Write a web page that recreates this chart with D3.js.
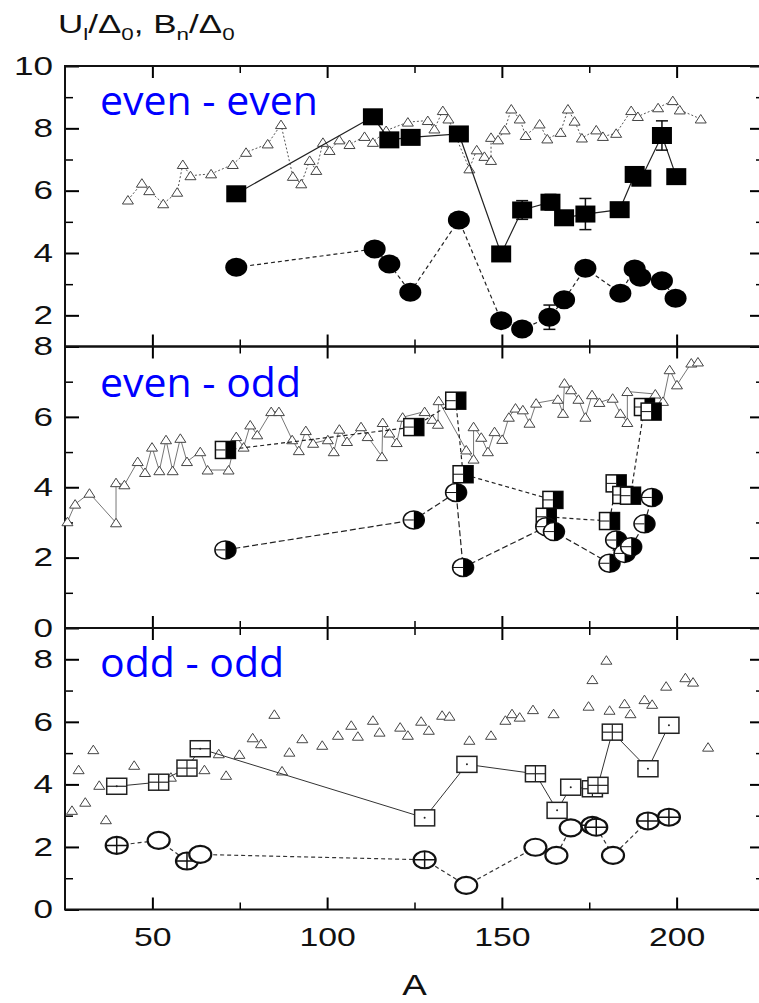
<!DOCTYPE html>
<html>
<head>
<meta charset="utf-8">
<script src="https://cdn.jsdelivr.net/npm/d3@7"></script>
<style>
	body { margin: 0; background: #fff; }
</style>
</head>
<body>
<div id="chart"></div>
<script>
// ---- data ----
// even - even
var eeTriA = [43, 47, 49.1, 53.1, 57.1, 58.7, 60.9, 66.8, 73, 76.8, 83, 86.8, 90.2, 92.6, 95, 96.9, 98.8, 100.7, 103.5, 106.4, 110.7, 113.1, 116.9, 123.1, 128.8, 130.7, 133.1, 134.7, 140.7, 142.8, 145, 146.9, 146.9, 148.9, 150.8, 152.7, 155.1, 156.8, 160.8, 163, 166.8, 168.9, 170.8, 172.9, 177, 178.9, 182.7, 187, 188.9, 194.7, 198.9, 200.9, 206.9];
var eeTriV = [5.7, 6.24, 6.0, 5.58, 5.95, 6.84, 6.48, 6.54, 6.84, 7.23, 7.5, 8.12, 6.46, 6.22, 6.97, 6.65, 7.55, 7.29, 7.63, 7.48, 7.74, 7.55, 7.93, 8.2, 8.25, 7.98, 8.57, 8.3, 6.7, 7.31, 7.1, 6.97, 7.71, 7.63, 7.95, 8.62, 8.3, 7.77, 8.14, 7.66, 7.87, 8.62, 8.23, 7.69, 7.95, 7.74, 7.84, 8.57, 8.38, 8.66, 8.89, 8.59, 8.3];
var eeSqA = [74, 113.1, 117.8, 123.9, 137.7, 149.8, 155.8, 163.9, 167.8, 173.9, 183.7, 188, 189.9, 195.8, 199.9];
var eeSqV = [5.9, 8.37, 7.63, 7.71, 7.82, 3.97, 5.38, 5.63, 5.13, 5.25, 5.39, 6.52, 6.4, 7.77, 6.45];
var eeSqErr = [0, 0, 0, 0, 0, 0, 0.3, 0.25, 0, 0.5, 0, 0, 0, 0.47, 0];
var eeCirA = [74, 113.6, 117.8, 123.8, 137.7, 149.8, 155.8, 163.6, 167.8, 173.9, 183.9, 188, 189.6, 195.8, 199.7];
var eeCirV = [3.54, 4.13, 3.65, 2.74, 5.06, 1.83, 1.56, 1.94, 2.5, 3.51, 2.71, 3.49, 3.22, 3.11, 2.55];
var eeCirErr = [0, 0, 0, 0, 0, 0, 0, 0.39, 0, 0, 0, 0, 0, 0, 0];

// even - odd
var eoTriA = [25.7, 27.9, 32, 39.6, 39.6, 42, 45.8, 47.9, 49.9, 52, 53.9, 55.8, 58, 59.9, 63.7, 65.8, 71.8, 74, 76.1, 78, 80, 84, 86.2, 90, 91.9, 93.9, 96, 100.2, 101.9, 103.5, 105.7, 109.7, 111.6, 115.7, 115.9, 117.8, 119.9, 121.6, 127.9, 130.1, 131.7, 131.9, 139.8, 141.9, 141.9, 144.1, 146, 147.9, 150.1, 152, 153.9, 156, 157.9, 159.8, 166, 167.5, 167.9, 169.8, 171.9, 173.9, 175.8, 177.9, 181.7, 183.9, 185.9, 185.9, 193.9, 196.1, 198, 200.1, 204.2, 206.1];
var eoTriV = [3.02, 3.52, 3.83, 2.99, 4.13, 4.07, 4.73, 4.42, 5.14, 4.47, 5.35, 4.47, 5.39, 4.73, 5.01, 4.49, 4.49, 5.44, 5.14, 5.77, 5.49, 6.15, 6.15, 5.35, 5.04, 5.61, 5.25, 5.35, 5.01, 5.65, 5.3, 5.72, 5.44, 4.87, 5.84, 5.54, 5.27, 5.99, 6.15, 5.93, 5.79, 6.46, 5.06, 4.8, 5.72, 5.42, 5.01, 5.58, 5.36, 5.99, 6.25, 6.2, 5.82, 6.39, 6.5, 6.1, 6.96, 6.77, 6.5, 5.99, 6.63, 6.41, 6.53, 6.1, 5.84, 6.72, 6.65, 6.44, 7.34, 6.91, 7.53, 7.56];
var eoSqA = [70.9, 124.8, 136.8, 138.9, 164.6, 162.7, 180.8, 182.7, 184.6, 186.8, 190.8, 192.7];
var eoSqV = [5.06, 5.71, 6.46, 4.37, 3.64, 3.16, 3.04, 4.11, 3.78, 3.76, 6.28, 6.15];
var eoCirA = [70.9, 124.8, 136.9, 138.9, 162.7, 164.9, 180.8, 182.7, 185.1, 187, 190.8, 192.9];
var eoCirV = [2.22, 3.07, 3.85, 1.72, 2.88, 2.74, 1.84, 2.5, 2.12, 2.31, 2.96, 3.71];

// odd - odd
var ooTriA = [27, 28.9, 30.8, 33.1, 34.8, 36.7, 44.8, 55.3, 64.9, 69, 71.1, 74.9, 78.7, 81.1, 84.9, 87.1, 89.2, 92.9, 98.6, 103.1, 106.9, 108.8, 113.1, 115, 120.9, 123.1, 126.9, 129.1, 132.9, 135, 140.7, 146.9, 151, 152.9, 155.1, 158.9, 164.8, 174.8, 175.9, 179.9, 180.8, 185.1, 186.8, 190.8, 193, 197, 202.5, 204.7, 209];
var ooTriV = [3.17, 4.47, 3.43, 5.11, 3.97, 2.87, 4.61, 4.23, 4.47, 4.98, 4.29, 4.96, 5.49, 5.3, 6.24, 4.43, 5.03, 5.46, 5.25, 5.57, 5.89, 5.54, 6.05, 5.67, 5.83, 5.57, 6.02, 5.73, 6.21, 6.18, 5.41, 5.57, 6.05, 6.26, 6.15, 6.39, 6.26, 6.5, 7.35, 7.97, 6.37, 6.58, 6.26, 6.71, 6.56, 7.14, 7.41, 7.27, 5.19];
var ooSqA = [39.8, 51.8, 59.9, 63.7, 127.9, 140, 159.6, 165.8, 169.7, 175.9, 177.5, 181.6, 191.8, 197.8];
var ooSqV = [3.94, 4.07, 4.52, 5.14, 2.93, 4.64, 4.34, 3.17, 3.91, 3.86, 3.97, 5.67, 4.5, 5.89];
var ooSqMark = ['h', 'c', 'c', 'h', 'd', 'd', 'c', 'd', 'd', 'c', 'c', 'c', 'd', 'd'];
var ooCirA = [39.8, 51.8, 59.9, 63.7, 127.9, 139.8, 159.6, 165.6, 169.7, 175.9, 177, 181.8, 191.8, 197.8];
var ooCirV = [2.05, 2.21, 1.55, 1.76, 1.59, 0.77, 1.99, 1.73, 2.61, 2.69, 2.63, 1.73, 2.83, 2.95];
var ooCirMark = ['c', '', 'c', '', 'c', '', '', '', '', 'c', 'c', '', 'c', 'c'];

var xMajor = [50, 100, 150, 200];
var xMinor = [75, 125, 175];

function zip(a, v, extra) {
	return a.map(function(d, i){
		return { a: d, v: v[i], e: extra ? extra[i] : null };
	});
}

var chart_width  = 759;
var chart_height = 1003;
var left = 65, right = 764;

var svg = d3.select('#chart')
	.append('svg')
	.attr('width', chart_width)
	.attr('height', chart_height)
	.style('font-family', 'Liberation Sans, Arial, sans-serif');

var x_scale = d3.scaleLinear()
	.domain([25, 225])
	.range([left, right]);

var panels = [
	{ name: 'even - even', domain: [1, 10], range: [346.5, 66], major: [2, 4, 6, 8, 10], minor: [3, 5, 7, 9], labelY: 115 },
	{ name: 'even - odd', domain: [0, 8], range: [628, 346.5], major: [0, 2, 4, 6, 8], minor: [1, 3, 5, 7], labelY: 397 },
	{ name: 'odd - odd', domain: [0, 9], range: [909.5, 628], major: [0, 2, 4, 6, 8], minor: [1, 3, 5, 7], labelY: 677 }
];

panels.forEach(function(p){
	p.y = d3.scaleLinear().domain(p.domain).range(p.range);
});

function noDomain(g) { g.select('.domain').remove(); }

// ---- axes and frames ----
panels.forEach(function(p, i){
	var yb = p.range[0], yt = p.range[1];

	// left ticks + labels
	svg.append('g')
		.attr('transform', 'translate(' + left + ',0)')
		.call(d3.axisLeft(p.y).tickValues(p.major).tickSize(-14).tickFormat(d3.format('d')))
		.call(noDomain)
		.call(function(g){
			g.selectAll('line').attr('stroke-width', 2);
			g.selectAll('text')
				.attr('x', null)
				.attr('font-size', 26)
				.attr('fill', '#111')
				.attr('transform', 'translate(-12,0) scale(1.35,1)');
		});
	svg.append('g')
		.attr('transform', 'translate(' + left + ',0)')
		.call(d3.axisLeft(p.y).tickValues(p.minor).tickSize(-8).tickFormat(''))
		.call(noDomain)
		.selectAll('line').attr('stroke-width', 1.5);

	// right ticks
	svg.append('g')
		.attr('transform', 'translate(' + right + ',0)')
		.call(d3.axisRight(p.y).tickValues(p.major).tickSize(-14).tickFormat(''))
		.call(noDomain)
		.selectAll('line').attr('stroke-width', 2);
	svg.append('g')
		.attr('transform', 'translate(' + right + ',0)')
		.call(d3.axisRight(p.y).tickValues(p.minor).tickSize(-8).tickFormat(''))
		.call(noDomain)
		.selectAll('line').attr('stroke-width', 1.5);

	// top and bottom ticks, pointing inward
	[[d3.axisTop, yt], [d3.axisBottom, yb]].forEach(function(s){
		svg.append('g')
			.attr('transform', 'translate(0,' + s[1] + ')')
			.call(s[0](x_scale).tickValues(xMajor).tickSize(-12).tickFormat(''))
			.call(noDomain)
			.selectAll('line').attr('stroke-width', 2);
		svg.append('g')
			.attr('transform', 'translate(0,' + s[1] + ')')
			.call(s[0](x_scale).tickValues(xMinor).tickSize(-7).tickFormat(''))
			.call(noDomain)
			.selectAll('line').attr('stroke-width', 1.5);
	});

	svg.append('rect')
		.attr('x', left)
		.attr('y', yt)
		.attr('width', right - left)
		.attr('height', yb - yt)
		.attr('fill', 'none')
		.attr('stroke', '#111')
		.attr('stroke-width', 2);

	svg.append('text')
		.attr('x', 100)
		.attr('y', p.labelY)
		.attr('font-family', 'Open Sans, sans-serif')
		.attr('font-size', 41)
		.attr('fill', '#0000ff')
		.text(p.name);
});

// x labels under bottom panel
svg.append('g')
	.attr('transform', 'translate(0,' + panels[2].range[0] + ')')
	.call(d3.axisBottom(x_scale).tickValues(xMajor).tickSize(0).tickFormat(d3.format('d')))
	.call(noDomain)
	.selectAll('text')
	.attr('y', 18)
	.attr('font-size', 26)
	.attr('fill', '#111')
	.attr('transform', 'scale(1.3,1)');

svg.append('text')
	.attr('transform', 'translate(' + x_scale(125) + ',995) scale(1.27,1)')
	.attr('text-anchor', 'middle')
	.attr('font-size', 29)
	.attr('fill', '#111')
	.text('A');

// y title
var title = svg.append('text')
	.attr('transform', 'translate(58,33) scale(1.4,1)')
	.attr('font-size', 25)
	.attr('fill', '#111');
[['U', 0], ['l', 1], ['/\u0394', -1], ['0', 1], [', B', -1], ['n', 1], ['/\u0394', -1], ['0', 1]].forEach(function(t){
	title.append('tspan')
		.attr('dy', t[1] === 1 ? 7 : (t[1] === -1 ? -7 : 0))
		.attr('font-size', t[1] === 1 ? 16 : 25)
		.text(t[0]);
});

// ---- marks ----
function line(p, data, dash, color, w) {
	var gen = d3.line()
		.x(function(d){ return x_scale(d.a); })
		.y(function(d){ return p.y(d.v); });
	svg.append('path')
		.datum(data)
		.attr('d', gen)
		.attr('fill', 'none')
		.attr('stroke', color)
		.attr('stroke-width', w)
		.attr('stroke-dasharray', dash);
}

function triangles(p, data) {
	svg.append('g').selectAll('path')
		.data(data)
		.enter()
		.append('path')
		.attr('transform', function(d){ return 'translate(' + x_scale(d.a) + ',' + p.y(d.v) + ')'; })
		.attr('d', 'M0,-4.5L5.5,4L-5.5,4Z')
		.attr('fill', 'white')
		.attr('stroke', '#444')
		.attr('stroke-width', 1);
}

function errorBars(p, data) {
	var g = svg.append('g').attr('stroke', '#111').attr('stroke-width', 1.5);
	data.filter(function(d){ return d.e; }).forEach(function(d){
		var cx = x_scale(d.a);
		var y0 = p.y(d.v - d.e), y1 = p.y(d.v + d.e);
		g.append('line').attr('x1', cx).attr('x2', cx).attr('y1', y0).attr('y2', y1);
		g.append('line').attr('x1', cx - 6).attr('x2', cx + 6).attr('y1', y0).attr('y2', y0);
		g.append('line').attr('x1', cx - 6).attr('x2', cx + 6).attr('y1', y1).attr('y2', y1);
	});
}

function markers(p, data) {
	return svg.append('g').selectAll('g')
		.data(data)
		.enter()
		.append('g')
		.attr('transform', function(d){ return 'translate(' + x_scale(d.a) + ',' + p.y(d.v) + ')'; });
}

// panel 1: even - even
var p1 = panels[0];
var eeTri = zip(eeTriA, eeTriV);
var eeSq = zip(eeSqA, eeSqV, eeSqErr);
var eeCir = zip(eeCirA, eeCirV, eeCirErr);
line(p1, eeTri, '2,2', '#555', 1);
triangles(p1, eeTri);
line(p1, eeSq, null, '#222', 1.2);
line(p1, eeCir, '4,3', '#222', 1.2);
errorBars(p1, eeSq);
errorBars(p1, eeCir);
markers(p1, eeSq).append('rect')
	.attr('x', -10).attr('y', -8.5).attr('width', 20).attr('height', 17)
	.attr('fill', '#000');
markers(p1, eeCir).append('ellipse')
	.attr('rx', 11).attr('ry', 9.5)
	.attr('fill', '#000');

// panel 2: even - odd
var p2 = panels[1];
var eoTri = zip(eoTriA, eoTriV);
line(p2, eoTri, null, '#777', 1);
triangles(p2, eoTri);
line(p2, zip(eoSqA, eoSqV), '4,3', '#222', 1.2);
line(p2, zip(eoCirA, eoCirV), '6,3', '#222', 1.2);

var hs = markers(p2, zip(eoSqA, eoSqV));
hs.append('rect')
	.attr('x', -10).attr('y', -8.5).attr('width', 20).attr('height', 17)
	.attr('fill', '#fff').attr('stroke', '#111').attr('stroke-width', 1.5);
hs.append('rect')
	.attr('x', 0).attr('y', -8.5).attr('width', 10).attr('height', 17)
	.attr('fill', '#000');
hs.append('line')
	.attr('x1', -10).attr('x2', 0).attr('y1', 0).attr('y2', 0)
	.attr('stroke', '#111').attr('stroke-width', 1);

var hc = markers(p2, zip(eoCirA, eoCirV));
hc.append('ellipse')
	.attr('rx', 10.5).attr('ry', 9)
	.attr('fill', '#fff').attr('stroke', '#111').attr('stroke-width', 1.5);
hc.append('path')
	.attr('d', 'M0,-9A10.5,9 0 0,1 0,9Z')
	.attr('fill', '#000');
hc.append('line')
	.attr('x1', -10.5).attr('x2', 0).attr('y1', 0).attr('y2', 0)
	.attr('stroke', '#111').attr('stroke-width', 1);

// panel 3: odd - odd
var p3 = panels[2];
triangles(p3, zip(ooTriA, ooTriV));
line(p3, zip(ooSqA, ooSqV), null, '#333', 1);
line(p3, zip(ooCirA, ooCirV), '4,3', '#333', 1.2);

var os = markers(p3, zip(ooSqA, ooSqV, ooSqMark));
os.append('rect')
	.attr('x', -10).attr('y', -8).attr('width', 20).attr('height', 16)
	.attr('fill', '#fff').attr('stroke', '#222').attr('stroke-width', 1.5);
os.filter(function(d){ return d.e === 'c' || d.e === 'h'; }).append('line')
	.attr('x1', -10).attr('x2', 10).attr('y1', 0).attr('y2', 0)
	.attr('stroke', '#222').attr('stroke-width', 1.2);
os.filter(function(d){ return d.e === 'c'; }).append('line')
	.attr('x1', 0).attr('x2', 0).attr('y1', -8).attr('y2', 8)
	.attr('stroke', '#222').attr('stroke-width', 1.2);
os.filter(function(d){ return d.e === 'd' || d.e === 'h'; }).append('circle')
	.attr('r', 1).attr('fill', '#222');

var oc = markers(p3, zip(ooCirA, ooCirV, ooCirMark));
oc.append('ellipse')
	.attr('rx', 11).attr('ry', 8.5)
	.attr('fill', '#fff').attr('stroke', '#111').attr('stroke-width', 2.2);
oc.filter(function(d){ return d.e === 'c'; }).append('path')
	.attr('d', 'M-11,0H11M0,-8.5V8.5')
	.attr('stroke', '#111').attr('stroke-width', 1.5);
</script>
</body>
</html>
